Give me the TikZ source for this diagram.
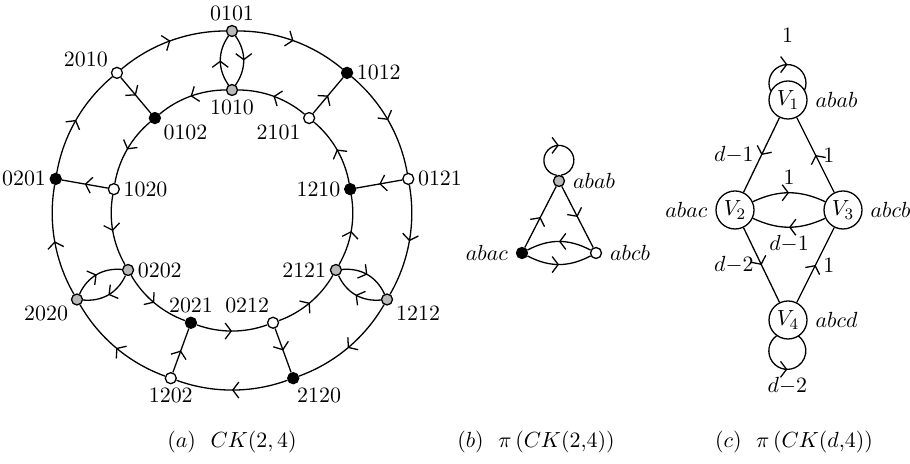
\documentclass[tikz,border=0pt,11pt]{standalone}
\usetikzlibrary{arrows.meta,decorations.markings}
\tikzset{
  vert/.style={circle,draw,inner sep=0pt,minimum size=5.5pt},
  bigvert/.style={circle,draw,fill=white,inner sep=0pt,minimum size=19pt},
  midarrow/.style={postaction={decorate},decoration={markings,mark=at position .5 with {\arrow{Straight Barb[length=3pt,width=8pt]}}}}
}
\begin{document}
\begin{tikzpicture}[x=0.5pt,y=0.5pt,line width=0.65pt]
\useasboundingbox (0,0) rectangle (910,464);
% (a) the two rings
\begin{scope}[shift={(232,254)},every label/.style={inner sep=1.5pt}]
\foreach \lab/\ang/\col/\lpos in {0101/90/gray!55/90, 1012/50/black/0, 0121/10/white/0, 1212/-30/gray!55/-25, 2120/-70/black/-87, 1202/-110/white/-90, 2020/-150/gray!55/-150, 0201/170/black/180, 2010/130/white/155} % edit here for outer vertices
\node[vert,fill=\col,label={\lpos:\lab}] (n\lab) at (\ang:179) {};
\foreach \lab/\ang/\col/\lpos in {1010/90/gray!55/270, 2101/50/white/-145, 1210/10/black/180, 2121/-30/gray!55/180, 0212/-70/white/93, 2021/-110/black/90, 0202/-150/gray!55/0, 1020/170/white/0, 0102/130/black/-35} % edit here for inner vertices
\node[vert,fill=\col,label={\lpos:\lab}] (n\lab) at (\ang:120) {};
\foreach \a/\b in {n2010/n0101, n0101/n1012, n1012/n0121, n0121/n1212, n1212/n2120, n2120/n1202, n1202/n2020, n2020/n0201, n0201/n2010} % outer ring, clockwise
\draw[midarrow] (\a) to[bend left=20,looseness=.88] (\b);
\foreach \a/\b in {n1010/n0102, n0102/n1020, n1020/n0202, n0202/n2021, n2021/n0212, n0212/n2121, n2121/n1210, n1210/n2101, n2101/n1010} % inner ring, counterclockwise
\draw[midarrow] (\a) to[bend right=20,looseness=.88] (\b);
\foreach \a/\b in {n2101/n1012, n0121/n1210, n0212/n2120, n1202/n2021, n1020/n0201, n2010/n0102} % edit here for spokes
\draw[midarrow] (\a) -- (\b);
\foreach \a/\b in {n0101/n1010, n1010/n0101, n2121/n1212, n1212/n2121, n2020/n0202, n0202/n2020} % edit here for double edges
\draw[midarrow] (\a) to[bend left=35] (\b);
\end{scope}
% (b)
\node[vert,fill=gray!55,label={0:$abab$}] (abab) at (559,283) {};
\node[vert,fill=black,label={180:$abac$}] (abac) at (522,211) {};
\node[vert,fill=white,label={0:$abcb$}] (abcb) at (596,211) {};
\draw[midarrow] (abab.111) arc[start angle=262,end angle=-82,radius=7.5pt];
\draw[midarrow] (abac) -- (abab);
\draw[midarrow] (abab) -- (abcb);
\draw[midarrow] (abcb) to[bend right=28] (abac);
\draw[midarrow] (abac) to[bend right=28] (abcb);
% (c)
\node[bigvert,label={0:$abab$}] (V1) at (788,364) {$V_1$};
\node[bigvert,label={180:$abac$}] (V2) at (735,254) {$V_2$};
\node[bigvert,label={0:$abcb$}] (V3) at (843,254) {$V_3$};
\node[bigvert,label={0:$abcd$}] (V4) at (788,144) {$V_4$};
\draw[midarrow] (V1.152) arc[start angle=204.5,end angle=-24.5,radius=9.25pt] node[midway,above=7pt] {$1$};
\draw[midarrow] (V4.234) arc[start angle=126,end angle=414,radius=9.25pt] node[midway,below] {$d{-}2$};
\draw[midarrow] (V1) -- node[left] {$d{-}1$} (V2);
\draw[midarrow] (V3) -- node[right] {$1$} (V1);
\draw[midarrow] (V2) to[bend left=25] node[above] {$1$} (V3);
\draw[midarrow] (V3) to[bend left=25] node[below] {$d{-}1$} (V2);
\draw[midarrow] (V2) -- node[left] {$d{-}2$} (V4);
\draw[midarrow] (V4) -- node[right] {$1$} (V3);
% captions
\node (capa) at (232,22) {$(a)$~~$CK(2,4)$};
\node (capb) at (536,22) {$(b)$~~$\pi\,(CK(2{,}4))$};
\node (capc) at (794,22) {$(c)$~~$\pi\,(CK(d{,}4))$};
\end{tikzpicture}
\end{document}
